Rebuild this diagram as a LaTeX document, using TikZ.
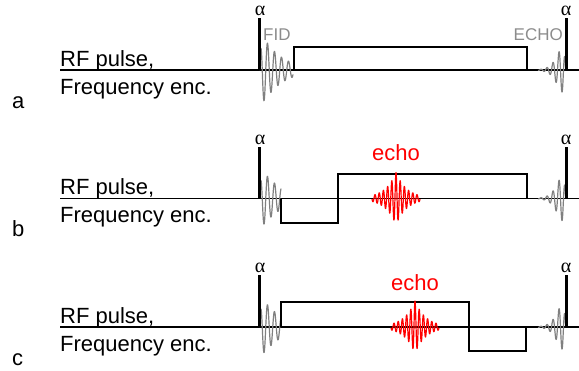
\documentclass[tikz,border=0pt]{standalone}
\usepackage{fontspec}
\setmainfont{Liberation Sans}
\newfontfamily\alphafont{Liberation Serif}
\definecolor{wavegray}{RGB}{128,128,128}
\definecolor{txtgray}{RGB}{140,140,140}
\definecolor{echored}{RGB}{255,0,0}
\begin{document}
\begin{tikzpicture}[x=1bp,y=-1bp,
  lbl/.style={anchor=base west, inner sep=0, font=\fontsize{22bp}{26bp}\selectfont},
  alph/.style={anchor=base, inner sep=0, font=\alphafont\fontsize{20bp}{23bp}\selectfont},
  smalltxt/.style={inner sep=0, text=txtgray, font=\fontsize{17bp}{20bp}\selectfont},
  echotxt/.style={anchor=base, inner sep=0, text=echored, font=\fontsize{22bp}{26bp}\selectfont},
  baseln/.style={line width=1.4bp, black},
  grad/.style={line width=2bp, black, line join=miter},
  spike/.style={line width=3bp, black},
  wave/.style={wavegray, line width=1.2bp, line join=round},
  echowave/.style={echored, line width=1.2bp, line join=round}]
\useasboundingbox (0,0) rectangle (579,370);

% common parts of the three panels
\foreach \b/\l/\fe/\A in {70/a/33.5/41, 198.5/b/21.5/34, 327/c/21.5/34} {
  \coordinate (L\l) at (60,\b);
  \coordinate (R\l) at (579,\b);
  \draw[baseln] (L\l) -- (R\l);
  \node[lbl] (rf\l) at (60,\b-4) {RF pulse,};
  \node[lbl] (fe\l) at (60,\b+24) {Frequency enc.};
  \node[lbl] (p\l) at (12,\b+38) {\l};
  % FID
  \draw[wave] plot[variable=\t, domain=0:\fe, samples=160, smooth]
    ({259.5+\t},{\b+\A*exp(-\t/19)*(1-exp(-\t/1.5))*sin(360*(\t-2.75)/7)});
  % echo before the next pulse
  \draw[wave] plot[variable=\t, domain=0:28, samples=160, smooth]
    ({566-\t},{\b+22*(\t/4)*exp(1-\t/4)*sin(360*(\t-2.5)/6)});
  % RF pulses
  \coordinate (s1b\l) at (259.5,\b);
  \coordinate (s1t\l) at (259.5,\b-52);
  \coordinate (s2b\l) at (566,\b);
  \coordinate (s2t\l) at (566,\b-52);
  \draw[spike] (s1b\l) -- (s1t\l);
  \draw[spike] (s2b\l) -- (s2t\l);
  \node[alph] (al1\l) at (260,\b-54.5) {α};
  \node[alph] (al2\l) at (566,\b-54.5) {α};
}

% panel a gradient
\coordinate (ga1) at (294,70);
\coordinate (ga2) at (294,46.5);
\coordinate (ga3) at (527,46.5);
\coordinate (ga4) at (527,70);
\draw[grad] (ga1) -- (ga2) -- (ga3) -- (ga4);
\node[smalltxt, anchor=base west] (fid) at (263,40) {FID};
\node[smalltxt, anchor=base east] (echoA) at (563,40) {ECHO};

% panel b gradient
\coordinate (gb1) at (281,198.5);
\coordinate (gb2) at (281,223);
\coordinate (gb3) at (338,223);
\coordinate (gb4) at (338,174);
\coordinate (gb5) at (527,174);
\coordinate (gb6) at (527,198.5);
\draw[grad] (gb1) -- (gb2) -- (gb3) -- (gb4) -- (gb5) -- (gb6);
\draw[echowave] plot[variable=\t, domain=-24:24, samples=481]
  ({396+\t},{198.5-26*exp(-abs(\t)/11)*cos(360*\t/4.2)});
\node[echotxt] (echoB) at (396,160) {echo};

% panel c gradient
\coordinate (gc1) at (281,327);
\coordinate (gc2) at (281,302);
\coordinate (gc3) at (469,302);
\coordinate (gc4) at (469,351);
\coordinate (gc5) at (526,351);
\coordinate (gc6) at (526,327);
\draw[grad] (gc1) -- (gc2) -- (gc3) -- (gc4) -- (gc5) -- (gc6);
\draw[echowave] plot[variable=\t, domain=-24:24, samples=481]
  ({415+\t},{327-26*exp(-abs(\t)/11)*cos(360*\t/4.2)});
\node[echotxt] (echoC) at (415,290) {echo};
\end{tikzpicture}
\end{document}
